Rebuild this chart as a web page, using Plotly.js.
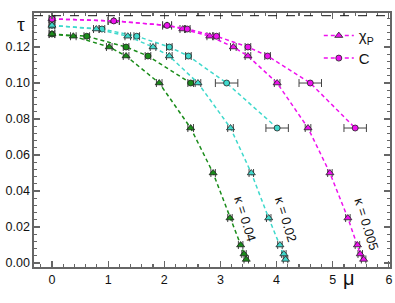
<!DOCTYPE html>
<html>
<head>
<meta charset="utf-8">
<script src="https://cdn.plot.ly/plotly-3.0.1.min.js"></script>
<style>html,body{margin:0;padding:0;background:#fff;}#chart{width:395px;height:303px;}</style>
</head>
<body>
<div id="chart"></div>
<script>
// kappa = 0.04 (green)
const greenChiMu  = [0, 0.38, 1.02, 1.32, 1.91, 2.47, 2.87, 3.17, 3.36, 3.42, 3.46];
const greenChiTau = [0.1272, 0.126, 0.12, 0.115, 0.10, 0.075, 0.05, 0.025, 0.01, 0.005, 0.002];
const greenChiErr = [0.05, 0.05, 0.05, 0.05, 0.05, 0.05, 0.04, 0.04, 0.04, 0.04, 0.04];
const greenCMu    = [0, 0.62, 1.32, 1.71, 2.47];
const greenCTau   = [0.1272, 0.126, 0.12, 0.115, 0.10];
const greenCErr   = [0.05, 0.05, 0.05, 0.05, 0.05];
// kappa = 0.02 (cyan)
const cyanChiMu   = [0, 0.79, 1.35, 1.80, 2.09, 2.60, 3.18, 3.55, 3.86, 4.06, 4.13, 4.16];
const cyanChiTau  = [0.132, 0.13, 0.126, 0.12, 0.115, 0.10, 0.075, 0.05, 0.025, 0.01, 0.005, 0.002];
const cyanChiErr  = [0.05, 0.05, 0.05, 0.05, 0.05, 0.05, 0.05, 0.04, 0.04, 0.04, 0.04, 0.04];
const cyanCMu     = [0, 0.89, 1.51, 2.09, 2.43, 3.11, 4.01];
const cyanCTau    = [0.132, 0.13, 0.126, 0.12, 0.115, 0.10, 0.075];
const cyanCErr    = [0.05, 0.05, 0.05, 0.05, 0.05, 0.2, 0.2];
// kappa = 0.005 (magenta)
const magChiMu    = [0, 1.10, 2.05, 2.33, 2.81, 3.23, 3.49, 4.01, 4.56, 4.95, 5.27, 5.44, 5.49, 5.55];
const magChiTau   = [0.1356, 0.1345, 0.132, 0.13, 0.126, 0.12, 0.115, 0.10, 0.075, 0.05, 0.025, 0.01, 0.005, 0.002];
const magChiErr   = [0.05, 0.1, 0.08, 0.05, 0.05, 0.05, 0.05, 0.05, 0.05, 0.04, 0.04, 0.04, 0.04, 0.04];
const magCMu      = [0, 1.10, 2.05, 2.41, 2.93, 3.49, 3.84, 4.60, 5.40];
const magCTau     = [0.1356, 0.1345, 0.132, 0.13, 0.126, 0.12, 0.115, 0.10, 0.075];
const magCErr     = [0.05, 0.1, 0.08, 0.05, 0.05, 0.05, 0.05, 0.2, 0.2];
// reference level (dashed black line)
const tauRef = 0.1374;
// curve labels
const labelText = ['κ = 0.04', 'κ = 0.02', 'κ = 0.005'];
const labelMu   = [3.45, 4.17, 5.6];
const labelTau  = [0.0244, 0.0244, 0.0213];

const GREEN = '#1a8c1a', CYAN = '#3fd9cc', MAG = '#ee11ee';

function tr(x, y, err, color, sym, name, showleg) {
  return {
    x: x, y: y, type: 'scatter', mode: 'lines+markers',
    name: name, showlegend: showleg,
    line: {color: color, width: 1.5, dash: '4px,3px'},
    marker: {symbol: sym, size: sym === 'triangle-up' ? 7 : 6, color: color,
             line: {color: '#222', width: 0.8}},
    error_x: {type: 'data', array: err, visible: true, color: '#444', thickness: 1, width: 4}
  };
}

const data = [
  tr(greenCMu, greenCTau, greenCErr, GREEN, 'circle', 'C', false),
  tr(greenChiMu, greenChiTau, greenChiErr, GREEN, 'triangle-up', 'χP', false),
  tr(cyanCMu, cyanCTau, cyanCErr, CYAN, 'circle', 'C', false),
  tr(cyanChiMu, cyanChiTau, cyanChiErr, CYAN, 'triangle-up', 'χP', false),
  tr(magChiMu, magChiTau, magChiErr, MAG, 'triangle-up', 'χ<sub>P</sub>', true),
  tr(magCMu, magCTau, magCErr, MAG, 'circle', 'C', true)
];

const axisCommon = {
  showgrid: false, zeroline: false, showline: true, linecolor: '#666', linewidth: 1.6,
  mirror: 'ticks', ticks: 'inside', ticklen: 6, tickcolor: '#666', tickwidth: 1.2,
  tickfont: {family: 'Liberation Sans, Arial, sans-serif', size: 12.5, color: '#111'}
};

const annotations = labelText.map((t, i) => ({
  x: labelMu[i], y: labelTau[i], xref: 'x', yref: 'y', text: t, showarrow: false,
  textangle: 73, font: {family: 'Liberation Sans, Arial, sans-serif', size: 13, color: '#111'}
}));
annotations.push({x: (15-34)/356, y: (267.3-11)/254.3, xref: 'paper', yref: 'paper', text: 'τ',
  showarrow: false, font: {family: 'Liberation Serif, serif', size: 20, color: '#111'}});
annotations.push({x: (357-34)/356, y: (267.3-291)/254.3, xref: 'paper', yref: 'paper', text: 'μ',
  showarrow: false, font: {family: 'Liberation Sans, Arial, sans-serif', size: 20, color: '#111'}});

const layout = {
  width: 395, height: 303,
  margin: {l: 34, r: 5, t: 13, b: 36, pad: 0},
  paper_bgcolor: '#fff', plot_bgcolor: '#fff',
  xaxis: Object.assign({}, axisCommon, {range: [-0.32, 6.02], dtick: 1, tick0: 0,
    minor: {dtick: 0.2, ticks: 'inside', ticklen: 3, tickcolor: '#666'}}),
  yaxis: Object.assign({}, axisCommon, {range: [-0.0022, 0.1389], dtick: 0.02, tick0: 0, tickformat: '.2f',
    minor: {dtick: 0.004, ticks: 'inside', ticklen: 3, tickcolor: '#666'}}),
  shapes: [{type: 'line', xref: 'paper', x0: 0, x1: 1, yref: 'y', y0: tauRef, y1: tauRef,
    line: {color: '#111', width: 1, dash: 'dash'}}],
  legend: {x: 0.8, y: 0.975, xanchor: 'left', yanchor: 'top', bgcolor: 'rgba(0,0,0,0)',
    itemwidth: 30, tracegroupgap: 0,
    font: {family: 'Liberation Sans, Arial, sans-serif', size: 15, color: '#111'}},
  annotations: annotations,
  showlegend: true
};

Plotly.newPlot('chart', data, layout, {displayModeBar: false, staticPlot: true});
</script>
</body>
</html>
